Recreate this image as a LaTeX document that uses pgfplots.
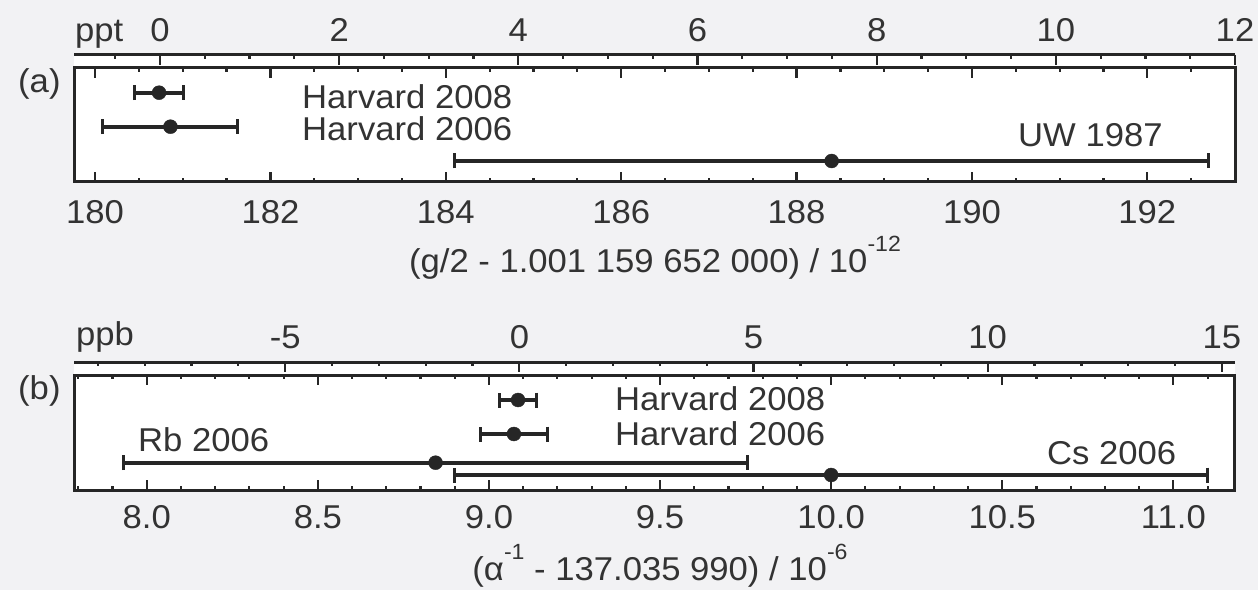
\documentclass[border=0pt]{standalone}
\usepackage{fontspec}
\setmainfont{Liberation Sans}[FakeStretch=1.05]
\usepackage{pgfplots}
\pgfplotsset{compat=1.18}
\definecolor{bg}{HTML}{F2F2F4}
\definecolor{ink}{HTML}{262626}
\definecolor{txt}{HTML}{333333}
\newcommand\bigf{\fontsize{33}{38}\selectfont}
\newcommand\sups[1]{\raisebox{0.62em}{\fontsize{22}{24}\selectfont #1}}
\pgfplotsset{
  base/.style={scale only axis, anchor=south west, width=1161pt,
    axis line style={-, ink, line width=3pt},
    tick style={ink, line width=2.2pt},
    major tick length=10pt, minor tick length=4pt,
    ytick=\empty,
    /pgf/number format/assume math mode=true,
    tick label style={font=\bigf, text=txt, inner sep=0pt},
    clip=false},
  strip/.style={base, height=13pt, axis x line=top, axis y line=none,
    tick align=inside,
    axis line style={-, ink, line width=3pt},
    axis background/.style={fill=white},
    xticklabel style={anchor=base, yshift=13.5pt}},
  main/.style={base, axis background/.style={fill=white}, tick align=inside},
  ebar/.style={ink, only marks, mark=*, mark size=7pt,
    mark options={fill=ink, draw=ink},
    error bars/.cd, x dir=both, x explicit,
    error bar style={line width=3.8pt, ink},
    error mark options={ink, line width=3pt, mark size=7.5pt, rotate=90}},
}
\begin{document}
\begin{tikzpicture}
\fill[bg] (0,0) rectangle (1258pt,590pt);
\useasboundingbox (0,0) rectangle (1258pt,590pt);

% ---------- panel (a) ----------
\begin{axis}[strip, at={(74pt,522pt)}, xmin=-0.96, xmax=12,
  xtick={0,2,4,6,8,10,12}, xticklabels={0,2,4,6,8,10,12},
  minor xtick={-0.5,0.5,1,1.5,2.5,3,3.5,4.5,5,5.5,6.5,7,7.5,8.5,9,9.5,10.5,11,11.5},
  ymin=0, ymax=1]
\end{axis}
\begin{axis}[main, at={(74pt,408pt)}, height=114pt,
  xmin=179.76, xmax=193.0, ymin=0, ymax=114,
  xtick={180,182,184,186,188,190,192},
  xticklabels={180,182,184,186,188,190,192},
  minor xtick={180.5,181,181.5,182.5,183,183.5,184.5,185,185.5,186.5,187,187.5,188.5,189,189.5,190.5,191,191.5,192.5},
  xticklabel style={anchor=base, yshift=-41.3pt}]
\addplot+[ebar] coordinates {
  (180.73,89.3) +- (0.28,0)
  (180.86,55.3) +- (0.77,0)
  (188.40,21.0) +- (4.30,0)
};
\end{axis}

% ---------- panel (b) ----------
\begin{axis}[strip, at={(74pt,215pt)}, xmin=-9.51, xmax=15.28,
  xtick={-5,0,5,10,15}, xticklabels={-5,0,5,10,15},
  minor xtick={-9,-8,-7,-6,-4,-3,-2,-1,1,2,3,4,6,7,8,9,11,12,13,14},
  ymin=0, ymax=1]
\end{axis}
\begin{axis}[main, at={(74pt,100pt)}, height=115pt,
  xmin=7.7875, xmax=11.18, ymin=0, ymax=115,
  xtick={8.0,8.5,9.0,9.5,10.0,10.5,11.0},
  xticklabels={8.0,8.5,9.0,9.5,10.0,10.5,11.0},
  minor xtick={7.8,7.9,8.1,8.2,8.3,8.4,8.6,8.7,8.8,8.9,9.1,9.2,9.3,9.4,9.6,9.7,9.8,9.9,10.1,10.2,10.3,10.4,10.6,10.7,10.8,10.9,11.1},
  xticklabel style={anchor=base, yshift=-38pt}]
\addplot+[ebar] coordinates {
  (9.085,90.0) +- (0.053,0)
  (9.073,56.0) +- (0.098,0)
  (8.844,27.3) +- (0.911,0)
  (10.00,15.0) +- (1.100,0)
};
\end{axis}

% ---------- texts ----------
\begin{scope}[every node/.style={font=\bigf, text=txt, inner sep=0pt}]
\node[anchor=west] at (18pt,506pt) {(a)};
\node[anchor=base west] at (75pt,548pt) {ppt};
\node[anchor=west] at (302pt,493.3pt) {Harvard 2008};
\node[anchor=west] at (302pt,461.5pt) {Harvard 2006};
\node[anchor=west] at (1018pt,455pt) {UW 1987};
\node[anchor=base] at (655pt,318pt) {(g/2 - 1.001 159 652 000) / 10\sups{-12}};

\node[anchor=west] at (18pt,199pt) {(b)};
\node[anchor=base west] at (76pt,245pt) {ppb};
\node[anchor=west] at (615pt,191pt) {Harvard 2008};
\node[anchor=west] at (615pt,156pt) {Harvard 2006};
\node[anchor=west] at (138pt,150pt) {Rb 2006};
\node[anchor=west] at (1047pt,137pt) {Cs 2006};
\node[anchor=base] at (660pt,10pt) {(α\sups{-1} - 137.035 990) / 10\sups{-6}};
\end{scope}
\end{tikzpicture}
\end{document}
